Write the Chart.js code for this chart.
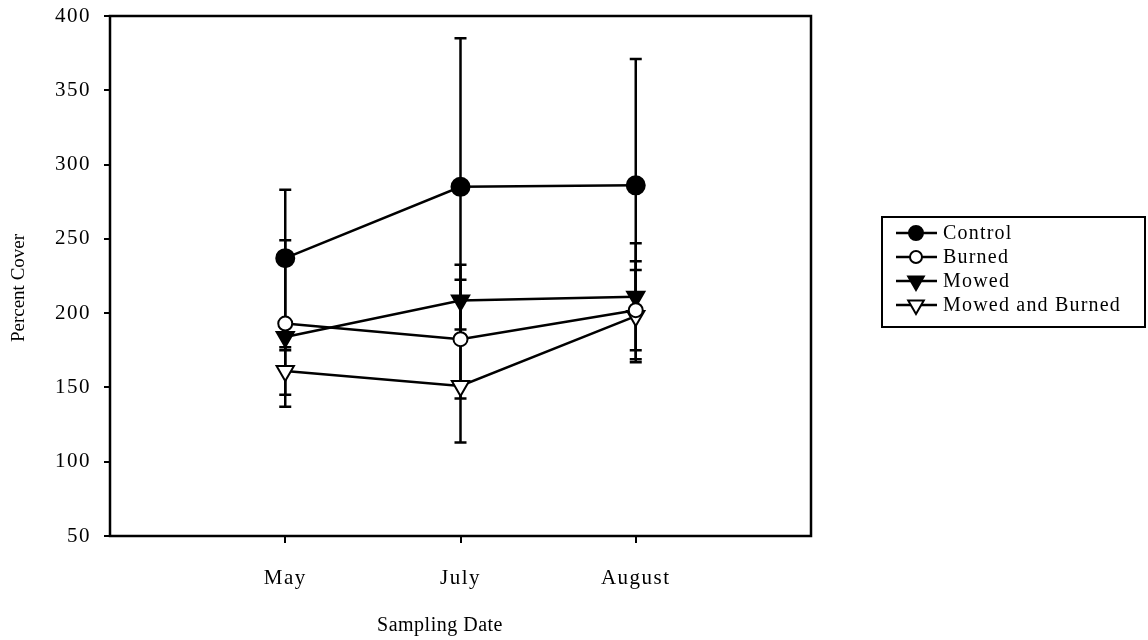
<!DOCTYPE html>
<html>
<head>
<meta charset="utf-8">
<style>
  html, body { margin: 0; padding: 0; background: #fff; }
  #wrap { width: 1148px; height: 640px; }
</style>
<script src="https://cdn.jsdelivr.net/npm/chart.js@4.4.1/dist/chart.umd.min.js"></script>
</head>
<body>
<div id="wrap"><canvas id="cover-chart" width="1148" height="640"></canvas></div>
<script>
  // sampling dates (x) and percent cover means with their error bars
  const dates = ["May", "July", "August"];
  const yTicks = [50, 100, 150, 200, 250, 300, 350, 400];

  const control = [237, 285, 286];
  const controlErr = [46, 100, 85];
  const burned = [193, 182.5, 202];
  const burnedErr = [56, 40, 33];
  const mowed = [184, 208.5, 211];
  const mowedErr = [9, 24, 36];
  const mowedBurned = [161, 151, 198];
  const mowedBurnedErr = [16, 38, 31];

  const FONT = '"Liberation Serif", "Times New Roman", serif';

  const toPoints = (vals) => vals.map((v, i) => ({ x: i + 1, y: v }));

  const series = [
    { label: "Control", data: control, err: controlErr, style: "circle", fill: "#000", r: 9 },
    { label: "Burned", data: burned, err: burnedErr, style: "circle", fill: "#fff", r: 7 },
    { label: "Mowed", data: mowed, err: mowedErr, style: "triangle", fill: "#000", r: 10 },
    { label: "Mowed and Burned", data: mowedBurned, err: mowedBurnedErr, style: "triangle", fill: "#fff", r: 10 }
  ];

  // error bars under the markers
  const errorBars = {
    id: "errorBars",
    beforeDatasetsDraw(chart) {
      const ctx = chart.ctx;
      const y = chart.scales.y;
      ctx.save();
      ctx.strokeStyle = "#000";
      ctx.lineWidth = 2.5;
      chart.data.datasets.forEach((ds, i) => {
        const meta = chart.getDatasetMeta(i);
        ds.errors.forEach((e, j) => {
          const px = meta.data[j].x;
          const v = ds.data[j].y;
          const top = y.getPixelForValue(v + e);
          const bot = y.getPixelForValue(v - e);
          ctx.beginPath();
          ctx.moveTo(px, top); ctx.lineTo(px, bot);
          ctx.moveTo(px - 6, top); ctx.lineTo(px + 6, top);
          ctx.moveTo(px - 6, bot); ctx.lineTo(px + 6, bot);
          ctx.stroke();
        });
      });
      // frame round the plot
      const a = chart.chartArea;
      ctx.lineWidth = 2.5;
      ctx.strokeRect(a.left, a.top, a.right - a.left, a.bottom - a.top);
      ctx.restore();
    }
  };

  function drawMarker(ctx, style, fill, x, y, r) {
    ctx.beginPath();
    if (style === "circle") {
      ctx.arc(x, y, r, 0, Math.PI * 2);
    } else {
      // pointing down
      ctx.moveTo(x, y + r);
      ctx.lineTo(x - r * 0.866, y - r / 2);
      ctx.lineTo(x + r * 0.866, y - r / 2);
      ctx.closePath();
    }
    ctx.fillStyle = fill;
    ctx.fill();
    ctx.stroke();
  }

  // tick text is a bit spaced out; titles and legend drawn here
  const textLayer = {
    id: "textLayer",
    beforeDraw(chart) {
      chart.ctx.letterSpacing = "1.5px";
    },
    afterDraw(chart) {
      const ctx = chart.ctx;
      ctx.save();
      ctx.fillStyle = "#000";
      ctx.strokeStyle = "#000";
      ctx.textBaseline = "middle";

      ctx.letterSpacing = "0.5px";
      ctx.font = "20px " + FONT;
      ctx.textAlign = "center";
      ctx.fillText("Sampling Date", 440, 626);

      ctx.save();
      ctx.translate(19, 288);
      ctx.rotate(-Math.PI / 2);
      ctx.letterSpacing = "0px";
      ctx.font = "19px " + FONT;
      ctx.fillText("Percent Cover", 0, 0);
      ctx.restore();

      // legend
      ctx.lineWidth = 2;
      ctx.strokeRect(882, 217, 263, 110);
      ctx.textAlign = "left";
      ctx.letterSpacing = "1.2px";
      ctx.font = "20px " + FONT;
      series.forEach((s, i) => {
        const ly = 233 + i * 24;
        ctx.lineWidth = 2.5;
        ctx.beginPath();
        ctx.moveTo(896, ly); ctx.lineTo(937, ly);
        ctx.stroke();
        ctx.lineWidth = 2;
        drawMarker(ctx, s.style, s.fill, 916, ly, s.style === "circle" ? (s.fill === "#000" ? 7 : 6) : 9);
        ctx.fillStyle = "#000";
        ctx.fillText(s.label, 943, ly + 1);
      });
      ctx.restore();
    }
  };

  new Chart(document.getElementById("cover-chart"), {
    type: "line",
    data: {
      datasets: series.map((s) => ({
        label: s.label,
        data: toPoints(s.data),
        errors: s.err,
        borderColor: "#000",
        borderWidth: 2.5,
        tension: 0,
        pointStyle: s.style,
        pointRotation: s.style === "triangle" ? 180 : 0,
        pointRadius: s.r,
        pointHoverRadius: s.r,
        pointBackgroundColor: s.fill,
        pointBorderColor: "#000",
        pointBorderWidth: 2
      }))
    },
    options: {
      responsive: false,
      devicePixelRatio: 1,
      animation: false,
      layout: { padding: { top: 16, right: 337, bottom: 0, left: 0 } },
      plugins: { legend: { display: false }, tooltip: { enabled: false } },
      scales: {
        x: {
          type: "linear",
          min: 0,
          max: 4,
          afterFit: (s) => { s.height = 104; s.paddingLeft = 0; s.paddingRight = 0; },
          afterBuildTicks: (s) => { s.ticks = dates.map((d, i) => ({ value: i + 1 })); },
          ticks: {
            color: "#000",
            font: { family: FONT, size: 21 },
            padding: 23,
            maxRotation: 0,
            callback: (v) => dates[v - 1] || ""
          },
          grid: { drawOnChartArea: false, drawTicks: true, tickLength: 7, color: "#000", lineWidth: 2 },
          border: { display: false }
        },
        y: {
          min: 50,
          max: 400,
          afterFit: (s) => { s.width = 110; s.paddingTop = 0; s.paddingBottom = 0; },
          afterBuildTicks: (s) => { s.ticks = yTicks.map((v) => ({ value: v })); },
          ticks: {
            color: "#000",
            font: { family: FONT, size: 21 },
            padding: 13
          },
          grid: { drawOnChartArea: false, drawTicks: true, tickLength: 6, color: "#000", lineWidth: 2 },
          border: { display: false }
        }
      }
    },
    plugins: [errorBars, textLayer]
  });
</script>
</body>
</html>
